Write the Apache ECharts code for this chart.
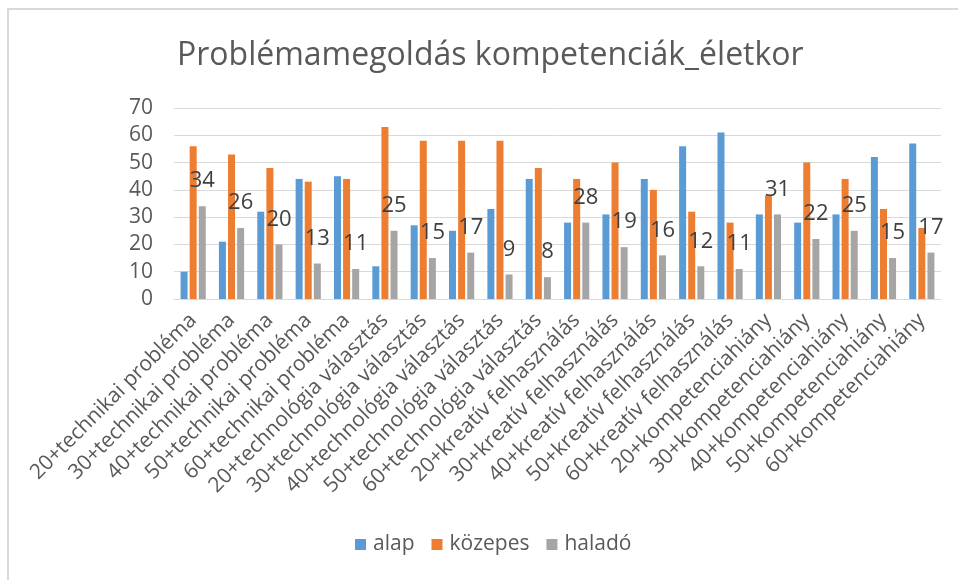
<!DOCTYPE html>
<html>
<head>
<meta charset="utf-8">
<script src="https://cdn.jsdelivr.net/npm/echarts@6/dist/echarts.min.js"></script>
<style>
  html, body { margin: 0; padding: 0; background: #fff; }
  #chart { width: 958px; height: 580px; }
</style>
</head>
<body>
<div id="chart"></div>
<script>
// kategóriák és értékek (leolvasva az ábráról)
var categories = [
  '20+technikai probléma', '30+technikai probléma', '40+technikai probléma',
  '50+technikai probléma', '60+technikai probléma',
  '20+technológia választás', '30+technológia választás', '40+technológia választás',
  '50+technológia választás', '60+technológia választás',
  '20+kreatív felhasználás', '30+kreatív felhasználás', '40+kreatív felhasználás',
  '50+kreatív felhasználás', '60+kreatív felhasználás',
  '20+kompetenciahiány', '30+kompetenciahiány', '40+kompetenciahiány',
  '50+kompetenciahiány', '60+kompetenciahiány'
];
var alap = [10, 21, 32, 44, 45, 12, 27, 25, 33, 44, 28, 31, 44, 56, 61, 31, 28, 31, 52, 57];
var kozepes = [56, 53, 48, 43, 44, 63, 58, 58, 58, 48, 44, 50, 40, 32, 28, 38, 50, 44, 33, 26];
var halado = [34, 26, 20, 13, 11, 25, 15, 17, 9, 8, 28, 19, 16, 12, 11, 31, 22, 25, 15, 17];

var font = 'Open Sans';
var chart = echarts.init(document.getElementById('chart'), null, { renderer: 'canvas' });

var option = {
  animation: false,
  color: ['#5b9bd5', '#ed7d31', '#a5a5a5'],
  textStyle: { fontFamily: font },
  title: {
    text: 'Problémamegoldás kompetenciák_életkor',
    left: 172,
    top: 35,
    textStyle: { fontSize: 32, fontWeight: 'normal', color: '#595959', fontFamily: font }
  },
  graphic: [{
    type: 'polyline',
    shape: { points: [[8, 600], [8, 9], [980, 9]] },
    style: { stroke: '#d9d9d9', lineWidth: 2, fill: null }
  }],
  legend: {
    bottom: 20,
    left: 350,
    itemWidth: 11,
    itemHeight: 11,
    itemGap: 17,
    icon: 'rect',
    textStyle: { fontSize: 21, color: '#595959', fontFamily: font, padding: [0, 0, 0, 2] },
    data: ['alap', 'közepes', 'haladó']
  },
  grid: { left: 174, right: 17, top: 108, bottom: 281, containLabel: false },
  xAxis: {
    type: 'category',
    data: categories,
    axisTick: { show: false },
    axisLine: { lineStyle: { color: '#d9d9d9', width: 1 } },
    axisLabel: {
      interval: 0,
      rotate: 45,
      margin: 18,
      fontSize: 21,
      color: '#595959',
      fontFamily: font
    }
  },
  yAxis: {
    type: 'value',
    min: 0,
    max: 70,
    interval: 10,
    axisLine: { show: false },
    axisTick: { show: false },
    splitLine: { lineStyle: { color: '#d9d9d9', width: 1 } },
    axisLabel: { fontSize: 21, color: '#595959', margin: 21, fontFamily: font }
  },
  series: [
    { name: 'alap', type: 'bar', data: alap, barWidth: 7, barGap: '30%' },
    { name: 'közepes', type: 'bar', data: kozepes, barWidth: 7, barGap: '30%' },
    {
      name: 'haladó', type: 'bar', data: halado, barWidth: 7, barGap: '30%',
      label: {
        show: true,
        position: 'top',
        distance: 14,
        fontSize: 22,
        color: '#404040',
        fontFamily: font
      }
    }
  ]
};
chart.setOption(option);
</script>
</body>
</html>
